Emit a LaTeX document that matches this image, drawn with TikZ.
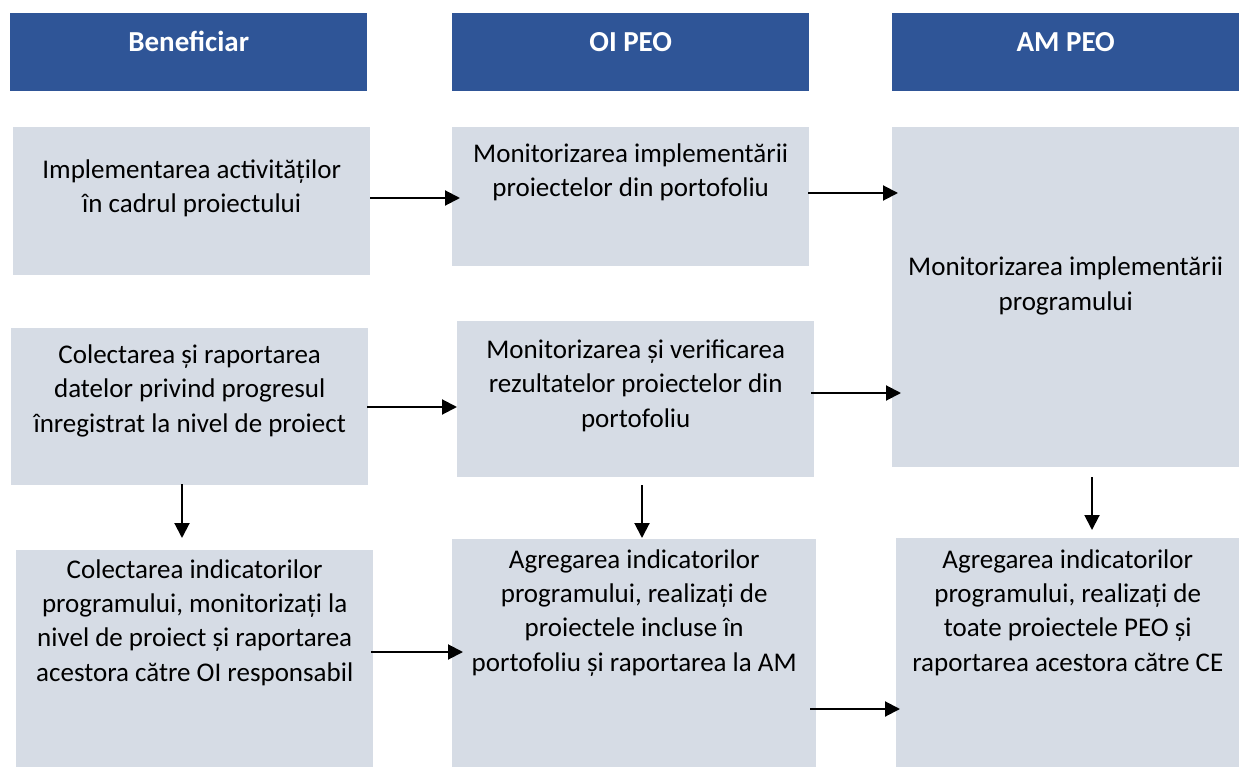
\documentclass[tikz,border=0pt]{standalone}
\usepackage{fontspec}
\setmainfont{Carlito}
\usetikzlibrary{positioning,arrows.meta}
\definecolor{headblue}{HTML}{2F5597}
\definecolor{boxgray}{HTML}{D6DCE5}
\tikzset{
	head/.style={fill=headblue,inner sep=0pt,anchor=north west},
	box/.style={fill=boxgray,inner sep=0pt,anchor=north west},
	headtxt/.style={anchor=base,inner sep=0pt,text=white,font=\fontsize{29}{34}\selectfont\bfseries},
	txt/.style={anchor=base,inner sep=0pt,align=center,font=\fontsize{27}{34.3}\selectfont},
	arr/.style={line width=2pt,-{Triangle[length=15pt,width=15pt]}}
}
\begin{document}
\begin{tikzpicture}[x=1pt,y=-1pt]
		\useasboundingbox (0,0) rectangle (1239,767);
		% column heads
		\node[head,minimum width=357pt,minimum height=78pt] (hb) at (10,13) {};
		\node[head,minimum width=357pt,minimum height=78pt] (ho) at (452,13) {};
		\node[head,minimum width=347pt,minimum height=78pt] (ha) at (892,13) {};
		\node[headtxt] (hbt) at (hb.north |- 0,52) {Beneficiar};
		\node[headtxt] (hot) at (ho.north |- 0,52) {OI PEO};
		\node[headtxt] (hat) at (ha.north |- 0,52) {AM PEO};
		% boxes
		\node[box,minimum width=357pt,minimum height=148pt] (b1) at (13,127) {};
		\node[box,minimum width=357pt,minimum height=139pt] (o1) at (452,127) {};
		\node[box,minimum width=347pt,minimum height=340pt] (a1) at (892,127) {};
		\node[box,minimum width=357pt,minimum height=157pt] (b2) at (11,328) {};
		\node[box,minimum width=357pt,minimum height=156pt] (o2) at (457,321) {};
		\node[box,minimum width=357pt,minimum height=217pt] (b3) at (16,550) {};
		\node[box,minimum width=364pt,minimum height=228pt] (o3) at (452,539) {};
		\node[box,minimum width=343pt,minimum height=229pt] (a2) at (896,538) {};
		% texts (placed by the baseline of their last line)
		\node[txt] (b1t) at (b1.north |- 0,213) {Implementarea activităților\\în cadrul proiectului};
		\node[txt] (o1t) at (o1.north |- 0,197) {Monitorizarea implementării\\proiectelor din portofoliu};
		\node[txt] (a1t) at (a1.north |- 0,310) {Monitorizarea implementării\\programului};
		\node[txt] (b2t) at (b2.north |- 0,432) {Colectarea și raportarea\\datelor privind progresul\\înregistrat la nivel de proiect};
		\node[txt] (o2t) at (o2.north |- 0,427) {Monitorizarea și verificarea\\rezultatelor proiectelor din\\portofoliu};
		\node[txt] (b3t) at (b3.north |- 0,681) {Colectarea indicatorilor\\programului, monitorizați la\\nivel de proiect și raportarea\\acestora către OI responsabil};
		\node[txt] (o3t) at (o3.north |- 0,671) {Agregarea indicatorilor\\programului, realizați de\\proiectele incluse în\\portofoliu și raportarea la AM};
		\node[txt] (a2t) at (a2.north |- 0,671) {Agregarea indicatorilor\\programului, realizați de\\toate proiectele PEO și\\raportarea acestora către CE};
		% arrows
		\draw[arr,shorten >=-8pt] (b1.east |- 0,198) -- (o1.west |- 0,198);
		\draw[arr,shorten <=-1pt,shorten >=-6pt] (o1.east |- 0,193) -- (a1.west |- 0,193);
		\draw[arr,shorten <=-1pt] (b2.east |- 0,407) -- (o2.west |- 0,407);
		\draw[arr,shorten <=-3pt,shorten >=-9pt] (o2.east |- 0,393) -- (a1.west |- 0,393);
		\draw[arr,shorten <=-2pt,shorten >=-11pt] (b3.east |- 0,652) -- (o3.west |- 0,652);
		\draw[arr,shorten <=-6pt,shorten >=-4pt] (o3.east |- 0,709) -- (a2.west |- 0,709);
		\draw[arr,shorten <=-1pt,shorten >=12pt] (b2.south -| 182,0) -- (b3.north -| 182,0);
		\draw[arr,shorten <=8pt,shorten >=1pt] (o2.south -| 642,0) -- (o3.north -| 642,0);
		\draw[arr,shorten <=10pt,shorten >=8pt] (a1.south -| 1092,0) -- (a2.north -| 1092,0);
	\end{tikzpicture}
\end{document}
